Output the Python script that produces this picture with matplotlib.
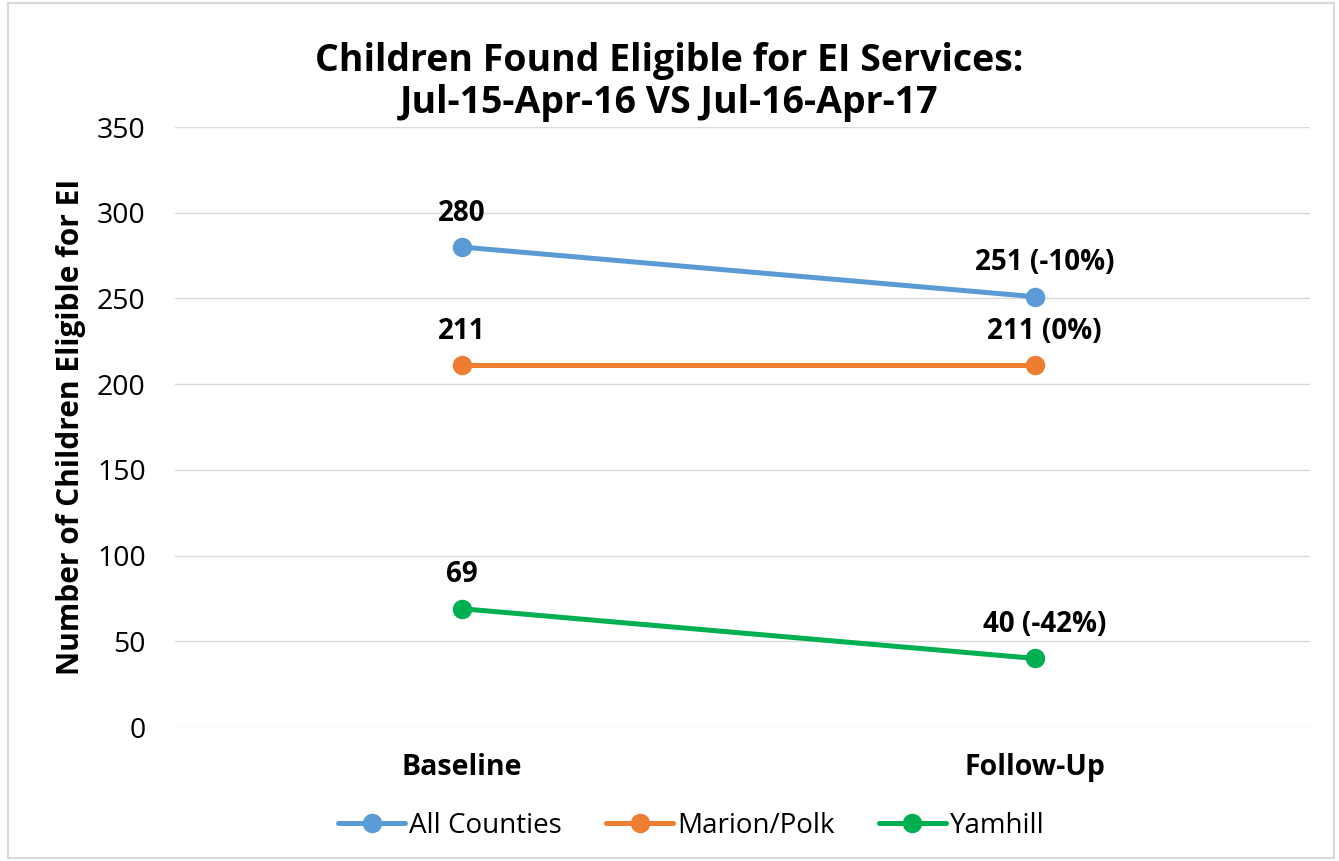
import matplotlib.pyplot as plt
from matplotlib.patches import Rectangle

plt.rcParams['font.family'] = ['Open Sans', 'DejaVu Sans']

# data
periods = ['Baseline', 'Follow-Up']
all_counties = [280, 251]
marion_polk = [211, 211]
yamhill = [69, 40]
series_names = ['All Counties', 'Marion/Polk', 'Yamhill']
follow_pct = ['-10%', '0%', '-42%']
colors = ['#5B9BD5', '#ED7D31', '#00B050']

fig = plt.figure(figsize=(13.39, 8.61), dpi=100)
ax = fig.add_axes([175 / 1339, 1 - 727 / 861, 1135 / 1339, 600 / 861])

# light border round the whole chart
fig.patches.append(Rectangle((0.006, 0.004), 0.99, 0.992, transform=fig.transFigure,
                             fill=False, edgecolor='#D9D9D9', linewidth=1.5))

x = list(range(len(periods)))
for vals, name, pct, c in zip([all_counties, marion_polk, yamhill], series_names, follow_pct, colors):
    ax.plot(x, vals, color=c, linewidth=3.6, marker='o', markersize=13, label=name,
            solid_capstyle='round')
    ax.annotate(f'{vals[0]}', (x[0], vals[0]), xytext=(0, 14), textcoords='offset points',
                ha='center', va='bottom', fontsize=20, fontweight='bold')
    ax.annotate(f'{vals[1]} ({pct})', (x[1], vals[1]), xytext=(7, 14), textcoords='offset points',
                ha='center', va='bottom', fontsize=20, fontweight='bold')

ax.set_xlim(-0.5, 1.48)
ax.set_ylim(0, 350)
ax.set_yticks(range(0, 351, 50))
ax.set_xticks(x)
ax.set_xticklabels(periods, fontsize=20.5, fontweight='bold')
ax.tick_params(axis='y', labelsize=20.5, length=0, pad=21)
ax.tick_params(axis='x', length=0, pad=19)
ax.grid(axis='y', color='#D9D9D9', linewidth=1)
ax.set_axisbelow(True)
for s in ax.spines.values():
    s.set_visible(False)

ax.set_ylabel('Number of Children Eligible for EI', fontsize=21.5, fontweight='bold', labelpad=8)
fig.text(0.5, 0.905, 'Children Found Eligible for EI Services:\nJul-15-Apr-16 VS Jul-16-Apr-17',
         ha='center', va='center', fontsize=27, fontweight='bold', linespacing=1.15)

ax.legend(loc='upper center', bbox_to_anchor=(0.455, -0.1), ncol=3, frameon=False,
          fontsize=20, handlelength=2.4, columnspacing=1.6, handletextpad=0.15)

fig.savefig('out.png', dpi=100, facecolor='white')
